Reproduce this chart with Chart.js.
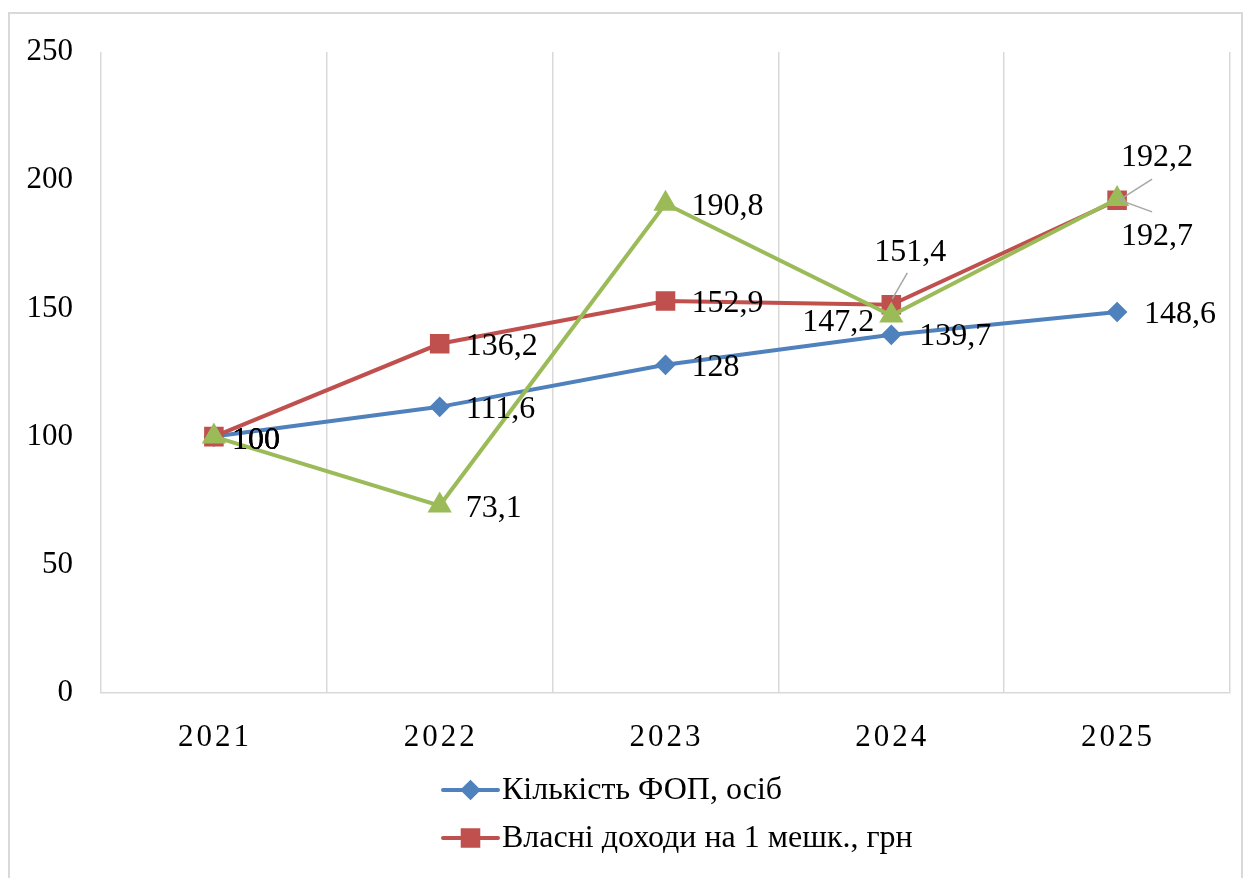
<!DOCTYPE html>
<html lang="uk">
<head>
  <meta charset="UTF-8" />
  <title>Динаміка показників, 2021 = 100</title>
  <script src="https://cdn.jsdelivr.net/npm/chart.js"></script>
  <style>
    html, body {
      margin: 0;
      padding: 0;
      background: #fff;
      overflow: hidden;
    }
    .frame {
      position: absolute;
      left: 8px;
      top: 12px;
      width: 1231px;
      height: 916px;
      border: 2px solid #d9d9d9;
    }
    canvas {
      display: block;
    }
  </style>
</head>
<body>
  <div class="frame"><canvas id="chart" width="1231" height="916"></canvas></div>

  <script>
    // Дані (індекс, 2021 = 100)
    const years = ["2021", "2022", "2023", "2024", "2025"];
    const fopCount = [100, 111.6, 128, 139.7, 148.6];
    const incomePerResident = [100, 136.2, 152.9, 151.4, 192.2];
    const series3 = [100, 73.1, 190.8, 147.2, 192.7];
    const seriesNames = ["Кількість ФОП, осіб", "Власні доходи на 1 мешк., грн", "Ряд 3"];
    // у легенді видно лише перші два ряди
    const legendCount = 2;

    const FONT = "'Liberation Serif', 'Times New Roman', serif";

    // Розміщення підписів даних відносно точки
    const labelPlace = [
      [{ dx: 18, dy: 4 }, { dx: 26, dy: 3 }, { dx: 26, dy: 3 }, { dx: 28, dy: 2 }, { dx: 27, dy: 3 }],
      [{ dx: 18, dy: 4 }, { dx: 26, dy: 3 }, { dx: 26, dy: 3 },
       { dx: -17, dy: -52, lead: [1, -6, 16, -32] },
       { dx: 4, dy: -43, lead: [2, 0, 35, -21] }],
      [{ dx: 18, dy: 4 }, { dx: 26, dy: 3 }, { dx: 26, dy: 3 },
       { dx: -17, dy: 7, align: "right" },
       { dx: 4, dy: 38, lead: [2, 1, 35, 13] }]
    ];

    const fmt = v => String(v).replace(".", ",");

    const extras = {
      id: "extras",
      afterDraw(chart) {
        const ctx = chart.ctx;
        const area = chart.chartArea;
        const xs = chart.scales.x;

        // Підписи осі X (з розрядкою)
        ctx.save();
        ctx.font = "31px " + FONT;
        ctx.fillStyle = "#000";
        ctx.textAlign = "center";
        ctx.textBaseline = "middle";
        ctx.letterSpacing = "3px";
        years.forEach((y, i) => {
          ctx.fillText(y, xs.getPixelForValue(i) + 1, area.bottom + 45);
        });
        ctx.restore();

        // Підписи даних
        ctx.save();
        ctx.font = "32px " + FONT;
        ctx.fillStyle = "#000";
        ctx.textBaseline = "middle";
        chart.data.datasets.forEach((ds, di) => {
          const meta = chart.getDatasetMeta(di);
          meta.data.forEach((pt, i) => {
            const p = labelPlace[di][i];
            if (p.lead) {
              ctx.strokeStyle = "#a6a6a6";
              ctx.lineWidth = 1.5;
              ctx.beginPath();
              ctx.moveTo(pt.x + p.lead[0], pt.y + p.lead[1]);
              ctx.lineTo(pt.x + p.lead[2], pt.y + p.lead[3]);
              ctx.stroke();
            }
            ctx.textAlign = p.align || "left";
            ctx.fillText(fmt(ds.data[i]), pt.x + p.dx, pt.y + p.dy);
          });
        });
        ctx.restore();

        // Легенда (стовпчиком)
        ctx.save();
        const lx = area.left + 342;
        chart.data.datasets.slice(0, legendCount).forEach((ds, di) => {
          const ly = area.bottom + 97 + di * 48;
          ctx.strokeStyle = ds.borderColor;
          ctx.lineWidth = 4;
          ctx.lineCap = "round";
          ctx.beginPath();
          ctx.moveTo(lx, ly);
          ctx.lineTo(lx + 55, ly);
          ctx.stroke();
          ctx.fillStyle = ds.pointBackgroundColor;
          ctx.strokeStyle = ds.borderColor;
          Chart.helpers.drawPoint(ctx, {
            pointStyle: ds.pointStyle,
            radius: ds.pointRadius,
            rotation: 0,
            borderWidth: 1
          }, lx + 27.5, ly);
          ctx.fillStyle = "#000";
          ctx.font = "32px " + FONT;
          ctx.textAlign = "left";
          ctx.textBaseline = "middle";
          ctx.fillText(ds.label, lx + 59, ly + 1);
        });
        ctx.restore();
      }
    };

    const ctx = document.getElementById("chart").getContext("2d");
    new Chart(ctx, {
      type: "line",
      data: {
        labels: years,
        datasets: [
          {
            label: seriesNames[0],
            data: fopCount,
            borderColor: "#4f81bd",
            backgroundColor: "#4f81bd",
            pointBackgroundColor: "#4f81bd",
            pointStyle: "rectRot",
            pointRadius: 7.5,
            borderWidth: 4,
            order: 2
          },
          {
            label: seriesNames[1],
            data: incomePerResident,
            borderColor: "#c0504d",
            backgroundColor: "#c0504d",
            pointBackgroundColor: "#c0504d",
            pointStyle: "rect",
            pointRadius: 11,
            borderWidth: 4,
            order: 1
          },
          {
            label: seriesNames[2],
            data: series3,
            borderColor: "#9bbb59",
            backgroundColor: "#9bbb59",
            pointBackgroundColor: "#9bbb59",
            pointStyle: "triangle",
            pointRadius: 10,
            borderWidth: 4,
            order: 0
          }
        ]
      },
      options: {
        responsive: false,
        animation: false,
        layout: {
          autoPadding: false,
          padding: { left: 0, right: 11, top: 38, bottom: 157 }
        },
        plugins: {
          legend: { display: false },
          tooltip: { enabled: false }
        },
        elements: {
          line: { tension: 0 },
          point: { borderWidth: 1 }
        },
        scales: {
          x: {
            type: "category",
            offset: true,
            grid: { offset: true, color: "#d9d9d9", lineWidth: 1.5, drawTicks: false },
            border: { color: "#d9d9d9", width: 1.5 },
            ticks: { display: false },
            afterFit: s => { s.height = 80; }
          },
          y: {
            min: 0,
            max: 250,
            ticks: {
              stepSize: 50,
              padding: 28,
              color: "#000",
              font: { family: FONT, size: 31 }
            },
            grid: { display: false, drawTicks: false },
            border: { display: false },
            afterFit: s => { s.width = 91; s.paddingTop = 0; s.paddingBottom = 0; }
          }
        }
      },
      plugins: [extras]
    });
  </script>
</body>
</html>
